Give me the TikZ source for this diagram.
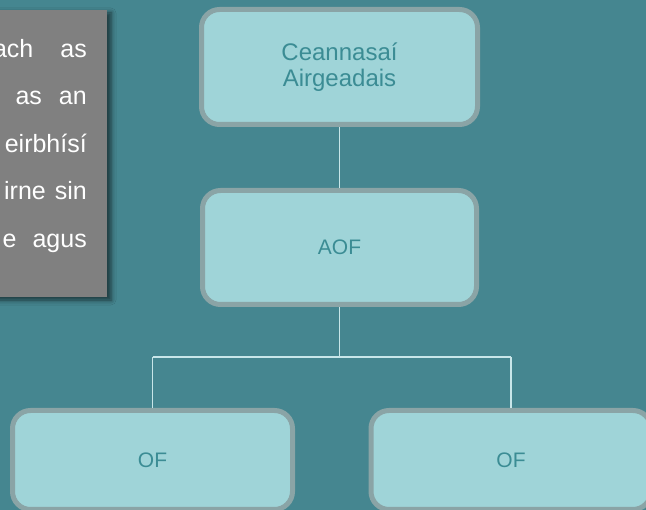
\documentclass[tikz,border=0pt]{standalone}
\usepackage{fontspec}
\setmainfont{Liberation Sans}
\usetikzlibrary{shadows.blur}
\definecolor{bgteal}{RGB}{69,134,144}
\definecolor{boxfill}{RGB}{159,212,216}
\definecolor{boxline}{RGB}{138,164,166}
\definecolor{boxtext}{RGB}{59,140,148}
\definecolor{connline}{RGB}{200,230,233}
\definecolor{panelgray}{RGB}{128,128,128}
\tikzset{
  orgbox/.style={draw=boxline, line width=5pt, fill=boxfill, rounded corners=18pt,
    text=boxtext, align=center, inner sep=0pt},
  conn/.style={draw=connline, line width=1.5pt},
  paneltext/.style={text=white, anchor=base east, inner sep=0pt,
    font=\fontsize{25}{27}\selectfont},
}
\begin{document}
\begin{tikzpicture}[x=1pt,y=-1pt]
\useasboundingbox (0,0) rectangle (646,510);
\fill[bgteal] (0,0) rectangle (646,510);
\clip (0,0) rectangle (646,510);
% left panel
\fill[panelgray, blur shadow={shadow xshift=4pt, shadow yshift=-3pt, shadow blur radius=5pt, shadow opacity=60}] (-30,10) rectangle (107,297);
\node[paneltext] (l1) at (87,57.5) {ach\hspace{27pt}as};
\node[paneltext] (l2) at (87,105) {as\hspace{17pt}an};
\node[paneltext] (l3) at (87,152.5) {eirbhísí};
\node[paneltext] (l4) at (87,200) {irne\hspace{9pt}sin};
\node[paneltext] (l5) at (87,247.5) {e\hspace{16pt}agus};
% boxes
\node[orgbox, minimum width=276pt, minimum height=115pt, font=\fontsize{24}{26}\selectfont] (top) at (339.5,67) {Ceannasaí\\Airgeadais};
\node[orgbox, minimum width=274pt, minimum height=114pt, font=\fontsize{21}{24}\selectfont] (mid) at (339.5,247.5) {AOF};
\node[orgbox, minimum width=280pt, minimum height=99pt, font=\fontsize{21}{24}\selectfont] (ofl) at (152.5,460) {OF};
\node[orgbox, minimum width=280pt, minimum height=99pt, font=\fontsize{21}{24}\selectfont] (ofr) at (511,460) {OF};
% connectors
\coordinate (hl) at (152.5,357);
\coordinate (hr) at (511,357);
\draw[conn] (top.south) -- (mid.north);
\draw[conn] (mid.south) -- (mid.south |- hl);
\draw[conn] (hl) -- (hr);
\draw[conn] (hl) -- (ofl.north);
\draw[conn] (hr) -- (ofr.north);
\end{tikzpicture}
\end{document}
